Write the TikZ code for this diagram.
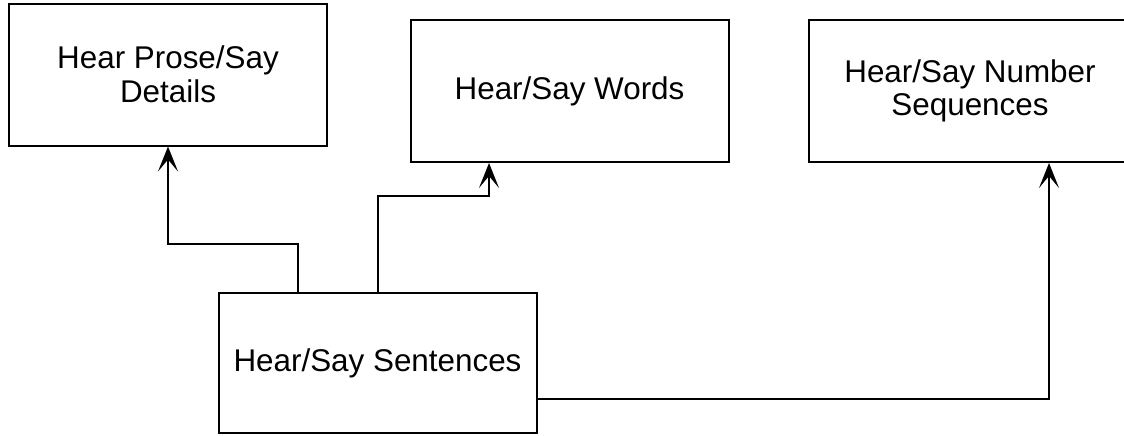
\documentclass[tikz,border=0pt]{standalone}
\usepackage{fontspec}
\setmainfont{Liberation Sans}
\usetikzlibrary{arrows.meta}

\begin{document}
\begin{tikzpicture}[
    x=0.5pt, y=-0.5pt,
    % Style for the task boxes
    task/.style={draw, line width=1pt, align=center,
        minimum width=159pt, minimum height=71pt, inner sep=0pt,
        font=\fontsize{15.7}{16.8}\selectfont},
    % Style for the elbow connectors
    flow/.style={line width=1pt,
        -{Stealth[length=12.5pt, width=10pt, inset=6pt]}}
]

    \useasboundingbox (0,0) rectangle (1124,435);

    % --- 1. Place the Boxes ---
    \node[task] (prose) at (168,74.5) {Hear Prose/Say\\Details};
    \node[task] (words) at (569.5,91) {Hear/Say Words};
    \node[task, minimum width=161pt] (numbers) at (970,91) {Hear/Say Number\\Sequences};
    \node[task, minimum height=70pt] (sentences) at (377.5,363) {Hear/Say Sentences};

    % --- 2. Define Bend Points ---
    \coordinate (bendA) at (298,244);
    \coordinate (bendB) at (378,196);
    \coordinate (intoB) at (489,0);
    \coordinate (outC) at (0,399);
    \coordinate (intoC) at (1049,0);

    % --- 3. Draw the Connectors ---
    \draw[flow] (sentences.north -| bendA) -- (bendA) -| (prose.south);
    \draw[flow] (sentences.north) |- (bendB) -| (words.south -| intoB);
    \draw[flow] (sentences.east |- outC) -| (numbers.south -| intoC);

\end{tikzpicture}
\end{document}
